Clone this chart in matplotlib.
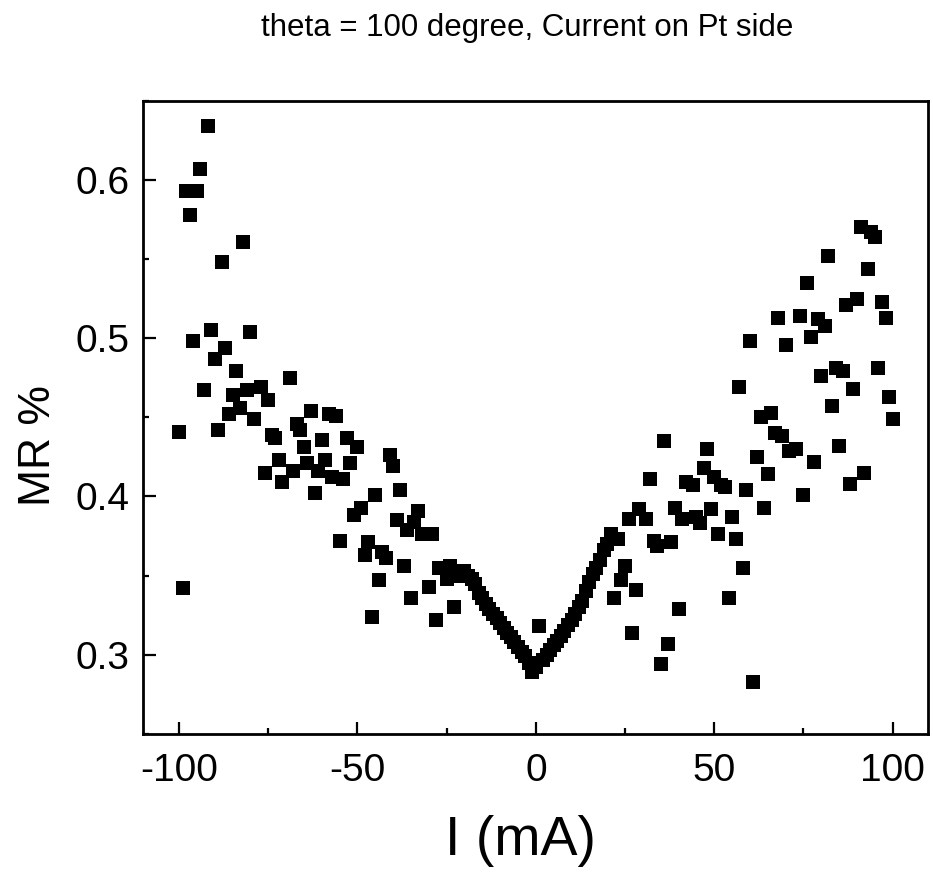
import matplotlib
matplotlib.use("Agg")
import matplotlib.pyplot as plt
from matplotlib.ticker import MultipleLocator

plt.rcParams.update({
    "font.family": ["Liberation Sans", "DejaVu Sans"],
    "axes.unicode_minus": False,
})

# current (mA) and MR (%)
current_ma = [
    -100, -99, -98, -97, -96, -95, -94, -93, -92, -91, -90, -89, -88, -87, -86,
    -85, -84, -83, -82, -81, -80, -79, -77, -76, -75, -74, -73, -72, -71, -69,
    -68, -67, -66, -65, -64, -63, -62, -61, -60, -59, -58, -57, -56, -55, -54,
    -53, -52, -51, -50, -49, -48, -47, -46, -45, -44, -43, -42, -41, -40, -39,
    -38, -37, -36, -35, -34, -33, -32, -30, -29, -28, -27, -25, -24, -23,
    -22, -21, -20, -19, -18, -17, -16, -15, -14, -13, -12, -11, -10, -9, -8,
    -7, -6, -5, -4, -3, -2, -1, 0, 1, 2, 3, 4, 5, 6, 7, 8, 9, 10, 11, 12, 13,
    14, 15, 16, 17, 18, 19, 20, 21, 22, 23, 24, 25, 26, 27, 28, 29, 31, 32, 33,
    34, 35, 36, 37, 38, 39, 40, 41, 42, 44, 45, 46, 47, 48, 49, 50, 51, 52, 53,
    54, 55, 56, 57, 58, 59, 60, 61, 62, 63, 64, 65, 66, 67, 68, 69, 70, 71, 73,
    74, 75, 76, 77, 78, 79, 80, 81, 82, 83, 84, 85, 86, 87, 88, 89, 90, 91, 92,
    93, 94, 95, 96, 97, 98, 99, 100,
]
mr_pct = [
    0.441, 0.342, 0.593, 0.578, 0.498, 0.593, 0.607, 0.467, 0.634, 0.505, 0.487,
    0.442, 0.548, 0.494, 0.452, 0.464, 0.479, 0.456, 0.561, 0.467, 0.504, 0.449,
    0.469, 0.415, 0.461, 0.439, 0.437, 0.423, 0.409, 0.475,
    0.416, 0.446, 0.442, 0.431, 0.421, 0.454, 0.402, 0.416, 0.436, 0.423, 0.452,
    0.412, 0.451, 0.372, 0.411,
    0.437, 0.421, 0.388, 0.431, 0.393, 0.363, 0.371, 0.324, 0.401, 0.347, 0.365,
    0.361, 0.426, 0.419, 0.385,
    0.404, 0.356, 0.379, 0.336, 0.384, 0.391, 0.376, 0.343, 0.376, 0.322, 0.355,
    0.348, 0.356, 0.330,
    0.350, 0.352, 0.353, 0.350, 0.348, 0.345, 0.339, 0.336, 0.332, 0.329, 0.326,
    0.323, 0.320, 0.317, 0.314,
    0.311, 0.308, 0.305, 0.302, 0.299, 0.295, 0.289, 0.292, 0.318, 0.297, 0.300,
    0.303, 0.306, 0.309, 0.312, 0.315, 0.319, 0.322, 0.326, 0.330, 0.334,
    0.340, 0.346, 0.351, 0.355, 0.360, 0.366, 0.370, 0.376, 0.336, 0.373, 0.347,
    0.356, 0.386, 0.314, 0.341, 0.392, 0.386, 0.411, 0.372,
    0.369, 0.294, 0.435, 0.307, 0.371, 0.393, 0.329, 0.386, 0.409, 0.407, 0.387,
    0.383, 0.418, 0.430, 0.392, 0.412, 0.376, 0.407, 0.406,
    0.336, 0.387, 0.373, 0.469, 0.355, 0.404, 0.498, 0.283, 0.425, 0.450, 0.393,
    0.414, 0.453, 0.440, 0.513, 0.438, 0.496, 0.429, 0.430,
    0.514, 0.401, 0.535, 0.501, 0.422, 0.512, 0.476, 0.508, 0.552, 0.457, 0.481,
    0.432, 0.479, 0.521, 0.408, 0.468, 0.525, 0.570, 0.415,
    0.544, 0.567, 0.564, 0.481, 0.523, 0.513, 0.463, 0.449,
]

TITLE = "theta = 100 degree, Current on Pt side"

fig = plt.figure(figsize=(9.33, 8.72), dpi=100)
ax = fig.add_axes([0.1536, 0.1583, 0.8414, 0.7262])

ax.plot(current_ma, mr_pct, linestyle="none", marker="s", ms=10.4,
        color="black", markeredgewidth=0)

ax.set_xlim(-110, 110)
ax.set_ylim(0.25, 0.65)
ax.xaxis.set_major_locator(MultipleLocator(50))
ax.xaxis.set_minor_locator(MultipleLocator(25))
ax.yaxis.set_major_locator(MultipleLocator(0.1))
ax.yaxis.set_minor_locator(MultipleLocator(0.05))
ax.tick_params(which="both", direction="in", width=1.6, labelsize=28,
               top=False, right=False)
ax.tick_params(which="major", length=9)
ax.tick_params(which="minor", length=4.5)
ax.tick_params(axis="x", which="major", pad=14)
ax.tick_params(axis="y", which="major", pad=10)
for sp in ax.spines.values():
    sp.set_linewidth(2.0)

ax.set_xlabel("I (mA)", fontsize=40)
ax.set_ylabel("MR %", fontsize=32)
ax.xaxis.set_label_coords(0.481, -0.128)
ax.yaxis.set_label_coords(-0.108, 0.455)

fig.text(0.565, 0.968, TITLE, ha="center", va="center", fontsize=22.5)

fig.savefig("out.png", dpi=100)
